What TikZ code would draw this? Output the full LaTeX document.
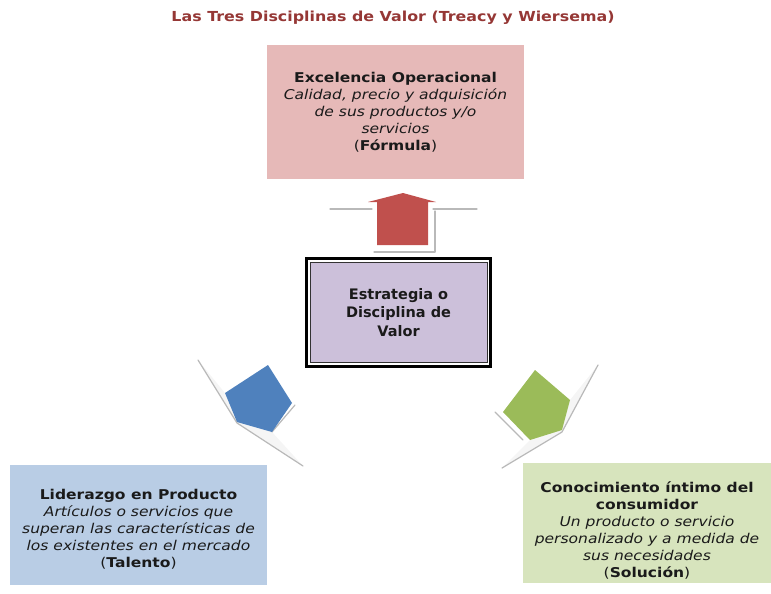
\documentclass[tikz,border=0pt]{standalone}
\usepackage{fontspec}
\setmainfont{DejaVu Sans}[FakeStretch=1.15]
\newfontfamily\centrefont{DejaVu Sans}
\usepackage{tikz}
\usetikzlibrary{calc,shapes}

\definecolor{titlered}{HTML}{953735}
\definecolor{boxred}{HTML}{E6B9B8}
\definecolor{arrowred}{HTML}{C0504D}
\definecolor{boxlila}{HTML}{CCC0DA}
\definecolor{boxblue}{HTML}{B9CDE5}
\definecolor{arrowblue}{HTML}{4F81BD}
\definecolor{boxgreen}{HTML}{D7E4BD}
\definecolor{arrowgreen}{HTML}{9BBB59}
\definecolor{textdark}{HTML}{1A1A1A}

\begin{document}
\begin{tikzpicture}[x=1pt, y=-1pt,
    box/.style={rectangle, align=center, inner sep=0pt, text=textdark,
        font=\fontsize{13.5}{17}\selectfont},
    wing/.style={draw=gray!55, line width=1.2pt, line cap=round, line join=round}]
    \useasboundingbox (0,0) rectangle (771,594);
    % Place nodes
    \node [font=\bfseries\fontsize{13.8}{15}\selectfont, text=titlered] (T) at (393,18) {Las Tres Disciplinas de Valor (Treacy y Wiersema)};
    \node [box, fill=boxred, minimum width=257pt, minimum height=134pt] (A) at (395.5,112) {\textbf{Excelencia Operacional}\\ \textit{Calidad, precio y adquisición}\\ \textit{de sus productos y/o}\\ \textit{servicios}\\ (\textbf{Fórmula})};
    \node [rectangle, draw=black, line width=3pt, fill=white, minimum width=184pt, minimum height=108pt] (BB) at (398.5,312.5) {};
    \node [box, draw=black!80, line width=0.8pt, fill=boxlila, minimum width=177pt, minimum height=100pt, font=\centrefont\bfseries\fontsize{14.5}{18.5}\selectfont] (B) at (398.5,312.5) {Estrategia o\\ Disciplina de\\ Valor};
    \node [box, fill=boxblue, minimum width=257pt, minimum height=120pt] (C) at (138.5,525) {};
    \node [box] (Ct) at ($(C)+(0,4)$) {\textbf{Liderazgo en Producto}\\ \textit{Artículos o servicios que}\\ \textit{superan las características de}\\ \textit{los existentes en el mercado}\\ (\textbf{Talento})};
    \node [box, fill=boxgreen, minimum width=248pt, minimum height=120pt] (D) at (647,523) {};
    \node [box] (Dt) at ($(D)+(0,7.5)$) {\textbf{Conocimiento íntimo del}\\ \textbf{consumidor}\\ \textit{Un producto o servicio}\\ \textit{personalizado y a medida de}\\ \textit{sus necesidades}\\ (\textbf{Solución})};
    % Block arrows
    \path [wing] (330,209) -- (372,209);
    \path [wing] (433,209) -- (477,209);
    \path [wing] (374,252) -- (435,252) -- (435,211);
    \path [fill=arrowred] (377,245) -- (377,202) -- (368,202) -- (403,193) -- (436,202) -- (428,202) -- (428,245) -- cycle;
    \path [fill=gray!8] (198,360) -- (237,423) -- (303,466) -- (272,432) -- (225,393) -- cycle;
    \path [wing] (198,360) -- (237,423) -- (303,466);
    \path [wing] (272,432) -- (295,405);
    \path [fill=arrowblue] (268,365) -- (292,403) -- (272,432) -- (237,422) -- (225,393) -- cycle;
    \path [fill=gray!8] (598,365) -- (562,432) -- (502,468) -- (530,440) -- (570,400) -- cycle;
    \path [wing] (598,365) -- (562,432) -- (502,468);
    \path [wing] (495,412) -- (523,440);
    \path [fill=arrowgreen] (535,370) -- (570,400) -- (562,430) -- (530,440) -- (503,412) -- cycle;
\end{tikzpicture}
\end{document}
